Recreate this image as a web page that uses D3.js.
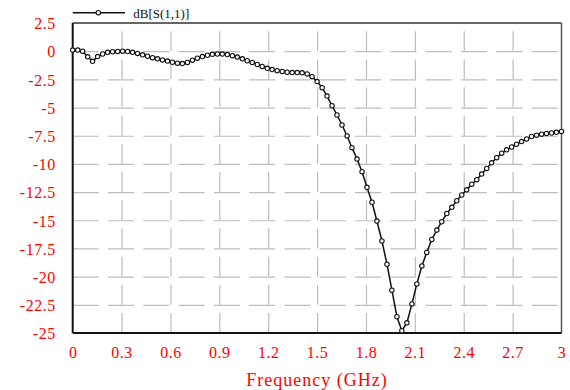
<!DOCTYPE html>
<html>
<head>
<meta charset="utf-8">
<script src="https://cdn.jsdelivr.net/npm/d3@7"></script>
<style>
  body { margin: 0; background: #fff; }
  svg { display: block; }
  .tick-label { font-family: "Liberation Serif", serif; fill: #ff0000; font-size: 16px; letter-spacing: 0.5px; }
</style>
</head>
<body>
<div id="chart-area"></div>
<script>
// sweep frequencies (GHz) and dB[S(1,1)]
const freqGHz = [0.000, 0.031, 0.061, 0.092, 0.122, 0.153, 0.184, 0.214, 0.245, 0.276,
  0.306, 0.337, 0.367, 0.398, 0.429, 0.459, 0.490, 0.520, 0.551, 0.582,
  0.612, 0.643, 0.673, 0.704, 0.735, 0.765, 0.796, 0.827, 0.857, 0.888,
  0.918, 0.949, 0.980, 1.010, 1.041, 1.071, 1.102, 1.133, 1.163, 1.194,
  1.224, 1.255, 1.286, 1.316, 1.347, 1.378, 1.408, 1.439, 1.469, 1.500,
  1.531, 1.561, 1.592, 1.622, 1.653, 1.684, 1.714, 1.745, 1.776, 1.806,
  1.837, 1.867, 1.898, 1.929, 1.959, 1.990, 2.020, 2.051, 2.082, 2.112,
  2.143, 2.173, 2.204, 2.235, 2.265, 2.296, 2.327, 2.357, 2.388, 2.418,
  2.449, 2.480, 2.510, 2.541, 2.571, 2.602, 2.633, 2.663, 2.694, 2.724,
  2.755, 2.786, 2.816, 2.847, 2.878, 2.908, 2.939, 2.969, 3.000];

const s11dB = [0.1, 0.1, 0.0, -0.5, -0.9, -0.48, -0.25, -0.1, -0.05, -0.02,
  0.0, -0.03, -0.1, -0.2, -0.32, -0.45, -0.58, -0.68, -0.78, -0.88,
  -0.98, -1.06, -1.1, -1.0, -0.8, -0.62, -0.48, -0.36, -0.28, -0.25,
  -0.26, -0.3, -0.4, -0.52, -0.68, -0.85, -1.0, -1.18, -1.35, -1.52,
  -1.63, -1.73, -1.8, -1.87, -1.9, -1.9, -1.92, -2.02, -2.26, -2.7,
  -3.24, -3.98, -4.84, -5.66, -6.55, -7.52, -8.56, -9.57, -10.69, -12.08,
  -13.4, -15.07, -16.84, -18.9, -21.2, -23.56, -24.8, -24.1, -22.42, -20.65,
  -19.05, -17.85, -16.7, -15.87, -15.13, -14.4, -13.85, -13.27, -12.76, -12.3,
  -11.8, -11.4, -10.9, -10.4, -9.9, -9.45, -9.05, -8.75, -8.5, -8.25,
  -8.02, -7.78, -7.57, -7.45, -7.36, -7.3, -7.26, -7.2, -7.12];

const xTicks = [0, 0.3, 0.6, 0.9, 1.2, 1.5, 1.8, 2.1, 2.4, 2.7, 3];
const xTickLabels = ["0", "0.3", "0.6", "0.9", "1.2", "1.5", "1.8", "2.1", "2.4", "2.7", "3"];
const yTicks = [2.5, 0, -2.5, -5, -7.5, -10, -12.5, -15, -17.5, -20, -22.5, -25];
const yTickLabels = ["2.5", "0", "-2.5", "-5", "-7.5", "-10", "-12.5", "-15", "-17.5", "-20", "-22.5", "-25"];
const seriesName = "dB[S(1,1)]";
const xTitle = "Frequency (GHz)";

const margin = {top: 23, right: 8.5, bottom: 57, left: 72.7},
    width = 570 - margin.left - margin.right,
    height = 390 - margin.top - margin.bottom;

const data = freqGHz.map((f, i) => ({f: f, db: s11dB[i]}));

//--------------------------- SVG
const svg = d3.select("#chart-area")
  .append("svg")
    .attr("width", 570)
    .attr("height", 390);

const g = svg.append("g")
    .attr("transform", `translate(${margin.left}, ${margin.top})`);

//--------------------------- SCALES
const x = d3.scaleLinear().domain([0, 3]).range([0, width]);
const y = d3.scaleLinear().domain([-25, 2.5]).range([height, 0]);

//--------------------------- GRID
const xGrid = g.append("g")
  .attr("transform", `translate(0, ${height})`)
  .call(d3.axisBottom(x).tickValues(xTicks.slice(1, -1)).tickSize(-height).tickFormat(""));
xGrid.select(".domain").remove();
xGrid.selectAll("line")
  .attr("stroke", "#bdbdbd")
  .attr("stroke-width", 1.2)
  .attr("stroke-dasharray", "20,8.18");

const yGrid = g.append("g")
  .call(d3.axisLeft(y).tickValues(yTicks.slice(1, -1)).tickSize(-width).tickFormat(""));
yGrid.select(".domain").remove();
yGrid.selectAll("line")
  .attr("stroke", "#bdbdbd")
  .attr("stroke-width", 1.2)
  .attr("stroke-dasharray", "26,9.3");

//--------------------------- FRAME
g.append("line").attr("x1", 0).attr("x2", width).attr("y1", 0).attr("y2", 0)
  .attr("stroke", "#333").attr("stroke-width", 1.5);
g.append("line").attr("x1", width).attr("x2", width).attr("y1", 0).attr("y2", height)
  .attr("stroke", "#555").attr("stroke-width", 1.5);
g.append("line").attr("x1", 0).attr("x2", 0).attr("y1", 0).attr("y2", height)
  .attr("stroke", "#111").attr("stroke-width", 2);
g.append("line").attr("x1", 0).attr("x2", width).attr("y1", height).attr("y2", height)
  .attr("stroke", "#111").attr("stroke-width", 2);

//--------------------------- AXIS LABELS
const xAxisGroup = g.append("g")
  .attr("transform", `translate(0, ${height})`)
  .call(d3.axisBottom(x).tickValues(xTicks).tickSize(0).tickPadding(0)
    .tickFormat((d, i) => xTickLabels[i]));
xAxisGroup.select(".domain").remove();
xAxisGroup.selectAll("text")
  .attr("class", "tick-label")
  .attr("y", 24.5)
  .attr("dy", 0);

const yAxisGroup = g.append("g")
  .call(d3.axisLeft(y).tickValues(yTicks).tickSize(0).tickPadding(0)
    .tickFormat((d, i) => yTickLabels[i]));
yAxisGroup.select(".domain").remove();
yAxisGroup.selectAll("text")
  .attr("class", "tick-label")
  .attr("x", -17)
  .attr("dy", "0.36em");

svg.append("text")
  .attr("x", margin.left + width / 2)
  .attr("y", 386)
  .attr("text-anchor", "middle")
  .style("font-family", "'Liberation Serif', serif")
  .style("font-size", "18px")
  .style("letter-spacing", "1px")
  .attr("fill", "#ff0000")
  .text(xTitle);

//--------------------------- CURVE
const line = d3.line()
  .x(d => x(d.f))
  .y(d => y(d.db));

g.append("path")
  .datum(data)
  .attr("fill", "none")
  .attr("stroke", "#111")
  .attr("stroke-width", 1.5)
  .attr("d", line);

g.selectAll("circle.pt")
  .data(data)
  .join("circle")
    .attr("class", "pt")
    .attr("cx", d => x(d.f))
    .attr("cy", d => y(d.db))
    .attr("r", 2.2)
    .attr("fill", "#fff")
    .attr("stroke", "#111")
    .attr("stroke-width", 1.1);

//--------------------------- LEGEND
const legend = svg.append("g");
legend.append("line")
  .attr("x1", 72.7).attr("x2", 125).attr("y1", 12.7).attr("y2", 12.7)
  .attr("stroke", "#111").attr("stroke-width", 1.5);
legend.append("circle")
  .attr("cx", 98.3).attr("cy", 12.7).attr("r", 2.2)
  .attr("fill", "#fff").attr("stroke", "#111").attr("stroke-width", 1.1);
legend.append("text")
  .attr("x", 133.3).attr("y", 18)
  .style("font-family", "'Liberation Serif', serif")
  .style("font-size", "13px")
  .attr("fill", "#111")
  .text(seriesName);
</script>
</body>
</html>
